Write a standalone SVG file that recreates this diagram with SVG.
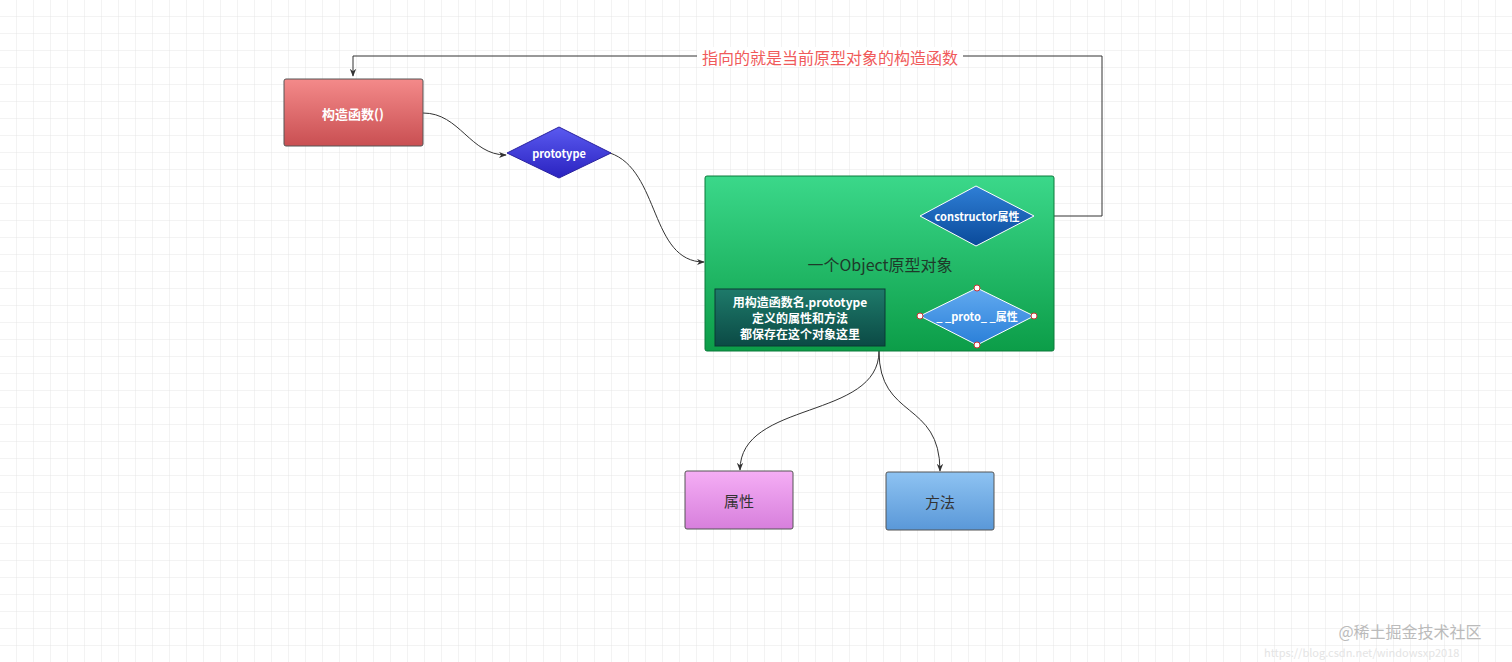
<svg xmlns="http://www.w3.org/2000/svg" width="1512" height="662" viewBox="0 0 1512 662">
<defs>
<pattern id="g" width="17" height="17" patternUnits="userSpaceOnUse"><path d="M17 0V17H0" fill="none" stroke="#e6e6e6" stroke-width="1"/></pattern>
<linearGradient id="red" x1="0" y1="0" x2="0" y2="1"><stop offset="0" stop-color="#f48a8a"/><stop offset="1" stop-color="#c94f52"/></linearGradient>
<linearGradient id="green" x1="0" y1="0" x2="0" y2="1"><stop offset="0" stop-color="#3bd88a"/><stop offset="1" stop-color="#0c9d48"/></linearGradient>
<linearGradient id="purple" x1="0" y1="0" x2="0" y2="1"><stop offset="0" stop-color="#5a5af0"/><stop offset="1" stop-color="#2a22c0"/></linearGradient>
<linearGradient id="dblue" x1="0" y1="0" x2="0" y2="1"><stop offset="0" stop-color="#2f7fd6"/><stop offset="1" stop-color="#0a4a9a"/></linearGradient>
<linearGradient id="lblue" x1="0" y1="0" x2="0" y2="1"><stop offset="0" stop-color="#62aaf0"/><stop offset="1" stop-color="#2a7fd8"/></linearGradient>
<linearGradient id="teal" x1="0" y1="0" x2="0" y2="1"><stop offset="0" stop-color="#1e7a6a"/><stop offset="1" stop-color="#0b4a45"/></linearGradient>
<linearGradient id="pink" x1="0" y1="0" x2="0" y2="1"><stop offset="0" stop-color="#f5aef5"/><stop offset="1" stop-color="#d77fdc"/></linearGradient>
<linearGradient id="sky" x1="0" y1="0" x2="0" y2="1"><stop offset="0" stop-color="#8ec3f2"/><stop offset="1" stop-color="#5a98d8"/></linearGradient>
<marker id="ar" viewBox="0 0 10 10" refX="9" refY="5" markerWidth="8" markerHeight="8" orient="auto"><path d="M0 1L10 5L0 9L3 5Z" fill="#333"/></marker>
</defs>
<style>
text{font-family:"Noto Sans CJK SC","Liberation Sans",sans-serif;text-anchor:middle;dominant-baseline:central}
.w{fill:#fff;font-weight:bold}
.b{stroke:#555;stroke-width:1}
.c{fill:none;stroke:#333;stroke-width:1}
.h{fill:#fff;stroke:#c33;stroke-width:1}
</style>
<rect width="1512" height="662" fill="#fff"/>
<rect width="1512" height="662" fill="url(#g)"/>
<g id="connectors">
<path class="c" d="M1034 216H1102V56H353V76" marker-end="url(#ar)"/>
<rect x="697" y="47" width="266" height="20" fill="#fff"/>
<text x="830" y="57" font-size="16" fill="#f05a5a">指向的就是当前原型对象的构造函数</text>
<path class="c" d="M423 113C460 113 470 155 506 155" marker-end="url(#ar)"/>
<path class="c" d="M610 153C660 170 650 262 704 262" marker-end="url(#ar)"/>
<path class="c" d="M879 351C879 420 740 400 740 470" marker-end="url(#ar)"/>
<path class="c" d="M879 351C879 420 940 400 940 471" marker-end="url(#ar)"/>
</g>
<g id="ctor"><rect x="284" y="79" width="139" height="67" rx="2" fill="url(#red)" class="b"/><text x="353" y="113" class="w" font-size="13">构造函数()</text></g>
<g id="prototype"><polygon points="559,127 611,153 559,178 507,153" fill="url(#purple)" stroke="#2a22a0"/><text x="559" y="153" class="w" font-size="11">prototype</text></g>
<g id="obj"><rect x="705" y="176" width="349" height="175" rx="2" fill="url(#green)" stroke="#0a7a3a"/><text x="880" y="264" font-size="16" fill="#1e3a2a">一个Object原型对象</text></g>
<g id="constructor"><polygon points="976,186 1034,216 976,246 920,216" fill="url(#dblue)" stroke="#ffffff" stroke-width="1"/><text x="977" y="216" class="w" font-size="11">constructor属性</text></g>
<g id="note"><rect x="715" y="289" width="170" height="57" fill="url(#teal)" stroke="#0a3a35"/><text x="800" y="301" class="w" font-size="12">用构造函数名.prototype</text><text x="800" y="317" class="w" font-size="12">定义的属性和方法</text><text x="800" y="333" class="w" font-size="12">都保存在这个对象这里</text></g>
<g id="proto"><polygon points="977,288 1034,316 977,345 920,316" fill="url(#lblue)" stroke="#fff"/><text x="977" y="316" class="w" font-size="11">_ _proto_ _属性</text>
<circle class="h" cx="977" cy="288" r="3"/><circle class="h" cx="1034" cy="316" r="3"/><circle class="h" cx="977" cy="345" r="3"/><circle class="h" cx="920" cy="316" r="3"/></g>
<g id="attr"><rect x="685" y="471" width="108" height="58" rx="2" fill="url(#pink)" class="b"/><text x="739" y="500" font-size="15" fill="#333">属性</text></g>
<g id="method"><rect x="886" y="472" width="108" height="58" rx="2" fill="url(#sky)" class="b"/><text x="940" y="501" font-size="15" fill="#333">方法</text></g>
<text x="1410" y="631" font-size="16" fill="#bbb">@稀土掘金技术社区</text>
<text x="1264" y="652" font-size="11" fill="#e4e4e4" style="text-anchor:start">https://blog.csdn.net/windowsxp2018</text>
</svg>
